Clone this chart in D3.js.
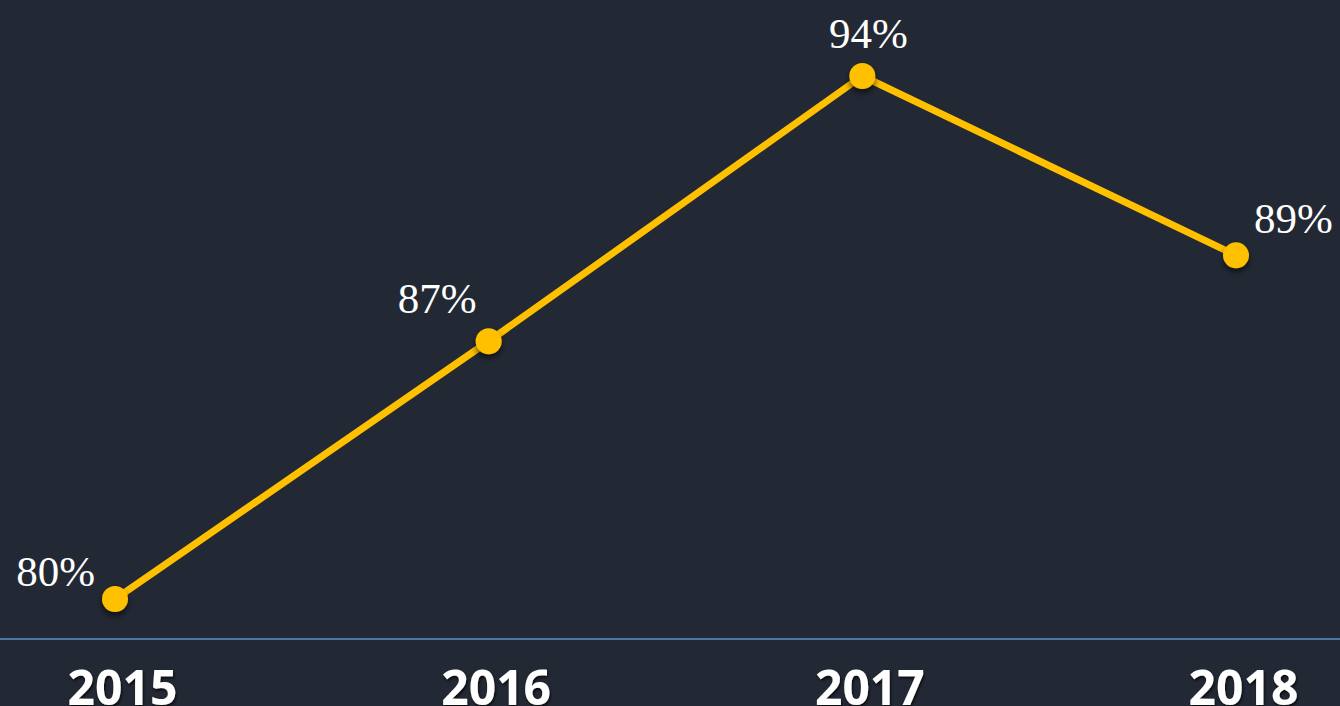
<!DOCTYPE html>
<html>
<head>
<meta charset="utf-8">
<script src="https://cdn.jsdelivr.net/npm/d3@7"></script>
<style>
  html, body { margin: 0; padding: 0; background: #232934; }
  svg { display: block; }
</style>
</head>
<body>
<svg id="chart" width="1340" height="706"></svg>
<script>
const years = ["2015", "2016", "2017", "2018"];
const rates = [80, 86.9, 94, 89.2];
const rateLabels = ["80%", "87%", "94%", "89%"];

const W = 1340, H = 706;
const svg = d3.select("#chart");

svg.append("rect").attr("width", W).attr("height", H).attr("fill", "#232934");

const defs = svg.append("defs");
const sh = defs.append("filter").attr("id", "dotShadow")
  .attr("x", "-60%").attr("y", "-60%").attr("width", "220%").attr("height", "240%");
sh.append("feDropShadow").attr("dx", 0).attr("dy", 4).attr("stdDeviation", 3)
  .attr("flood-color", "#000").attr("flood-opacity", 0.6);

const ts = defs.append("filter").attr("id", "textShadow")
  .attr("x", "-20%").attr("y", "-30%").attr("width", "140%").attr("height", "160%");
ts.append("feDropShadow").attr("dx", 1).attr("dy", 2).attr("stdDeviation", 1.5)
  .attr("flood-color", "#000").attr("flood-opacity", 0.8);

const x = d3.scalePoint().domain(years).range([115, 1236]);
const y = d3.scaleLinear().domain([78.93, 94]).range([639, 76]);

// baseline axis
const axisG = svg.append("g").attr("transform", `translate(0,${y(78.93)})`)
  .call(d3.axisBottom(x).tickSize(0).tickPadding(0));
axisG.select(".domain").remove();
axisG.append("line").attr("x1", 0).attr("x2", W).attr("y1", 0).attr("y2", 0)
  .attr("stroke", "#5f8fcf").attr("stroke-width", 1.5);
axisG.selectAll(".tick text")
  .attr("x", 7)
  .attr("y", 66)
  .attr("dy", 0)
  .attr("fill", "#ffffff")
  .attr("font-family", "'Open Sans', 'DejaVu Sans', sans-serif")
  .attr("font-weight", 700)
  .attr("font-size", 48)
  .attr("text-anchor", "middle")
  .attr("filter", "url(#textShadow)");

const data = years.map((yr, i) => ({ yr, v: rates[i], label: rateLabels[i] }));

const line = d3.line().x(d => x(d.yr)).y(d => y(d.v));
svg.append("path").datum(data)
  .attr("d", line)
  .attr("fill", "none")
  .attr("stroke", "#FFC000")
  .attr("stroke-width", 7)
  .attr("stroke-linejoin", "round");

svg.selectAll("circle.dot").data(data).enter().append("circle")
  .attr("class", "dot")
  .attr("cx", d => x(d.yr))
  .attr("cy", d => y(d.v))
  .attr("r", 13)
  .attr("fill", "#FFC000")
  .attr("filter", "url(#dotShadow)");

// label placement per point
const place = [
  { anchor: "end", dx: -20, dy: -13 },
  { anchor: "end", dx: -12, dy: -28 },
  { anchor: "middle", dx: 6, dy: -28 },
  { anchor: "start", dx: 18, dy: -22 }
];

svg.selectAll("text.val").data(data).enter().append("text")
  .attr("class", "val")
  .attr("x", (d, i) => x(d.yr) + place[i].dx)
  .attr("y", (d, i) => y(d.v) + place[i].dy)
  .attr("text-anchor", (d, i) => place[i].anchor)
  .attr("fill", "#ffffff")
  .attr("font-family", "'Liberation Serif', 'DejaVu Serif', serif")
  .attr("font-size", 43)
  .style("font-variant-numeric", "oldstyle-nums")
  .text(d => d.label);
</script>
</body>
</html>
